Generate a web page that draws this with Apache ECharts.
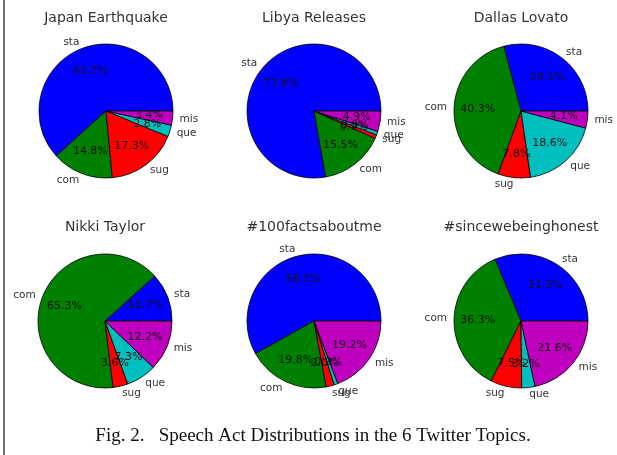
<!DOCTYPE html>
<html>
<head>
<meta charset="utf-8">
<script src="https://cdn.jsdelivr.net/npm/echarts@6/dist/echarts.min.js"></script>
<style>
html,body{margin:0;padding:0;background:#fff;}
#chart{width:617px;height:455px;}
</style>
</head>
<body>
<div id="chart"></div>
<script>
// Data
var categories = ['sta', 'com', 'sug', 'que', 'mis'];
var topics = ['Japan Earthquake', 'Libya Releases', 'Dallas Lovato', 'Nikki Taylor', '#100factsaboutme', '#sincewebeinghonest'];
var japanEarthquake   = [61.7, 14.8, 17.3, 2.8, 3.4];
var libyaReleases     = [77.8, 15.5, 0.9, 0.9, 4.9];
var dallasLovato      = [29.1, 40.3, 7.8, 18.6, 4.1];
var nikkiTaylor       = [11.7, 65.3, 3.6, 7.3, 12.2];
var factsAboutMe      = [58.1, 19.8, 2.0, 0.9, 19.2];
var sinceWeBeingHonest= [31.3, 36.3, 7.5, 3.2, 21.6];
var caption = 'Fig. 2.   Speech Act Distributions in the 6 Twitter Topics.';

var allValues = [japanEarthquake, libyaReleases, dallasLovato, nikkiTaylor, factsAboutMe, sinceWeBeingHonest];
var colors = ['#0000ff', '#008000', '#ff0000', '#00bfbf', '#bf00bf'];
var centers = [[106, 111], [314, 111], [521, 111], [105, 321], [314, 321], [521, 321]];
var titleY = [18, 18, 18, 227, 227, 227];
var R = 67;

var series = [];
var graphics = [
  { type: 'line', shape: { x1: 4, y1: 0, x2: 4, y2: 455 }, style: { stroke: '#444', lineWidth: 1.5 } },
  { type: 'text', x: 313, y: 436,
    style: { text: caption, fontFamily: 'Liberation Serif', fontSize: 19, fill: '#111',
             align: 'center', verticalAlign: 'middle', textAlign: 'center', textVerticalAlign: 'middle' } }
];
allValues.forEach(function (vals, i) {
  var data = categories.map(function (c, k) {
    return { name: c, value: vals[k], itemStyle: { color: colors[k] } };
  });
  series.push({
    type: 'pie',
    center: centers[i],
    radius: [0, R],
    startAngle: 0,
    clockwise: false,
    avoidLabelOverlap: false,
    silent: true,
    animation: false,
    itemStyle: { borderColor: '#000', borderWidth: 0.8 },
    label: {
      show: true, position: 'outside', formatter: '{b}',
      fontFamily: 'DejaVu Sans', fontSize: 10.5, color: '#333',
      distanceToLabelLine: 0
    },
    labelLine: { show: false, length: 7, length2: 0 },
    labelLayout: { hideOverlap: false },
    emphasis: { disabled: true },
    data: data
  });
  series.push({
    type: 'pie',
    center: centers[i],
    radius: [0, R * 1.2],
    startAngle: 0,
    clockwise: false,
    avoidLabelOverlap: false,
    silent: true,
    animation: false,
    z: 5,
    itemStyle: { color: 'rgba(0,0,0,0)', borderWidth: 0 },
    label: {
      show: true, position: 'inside',
      formatter: function (p) { return p.value.toFixed(1) + '%'; },
      fontFamily: 'DejaVu Sans', fontSize: 11, color: '#111'
    },
    labelLine: { show: false },
    labelLayout: { hideOverlap: false },
    emphasis: { disabled: true },
    data: categories.map(function (c, k) { return { name: c, value: vals[k] }; })
  });
  graphics.push({
    type: 'text', x: centers[i][0], y: titleY[i],
    style: { text: topics[i], fontFamily: 'DejaVu Sans', fontSize: 14, fill: '#333',
             align: 'center', verticalAlign: 'middle', textAlign: 'center', textVerticalAlign: 'middle' }
  });
});

var chart = echarts.init(document.getElementById('chart'), null, { renderer: 'canvas' });
chart.setOption({
  backgroundColor: '#fff',
  animation: false,
  series: series,
  graphic: graphics
});
</script>
</body>
</html>
